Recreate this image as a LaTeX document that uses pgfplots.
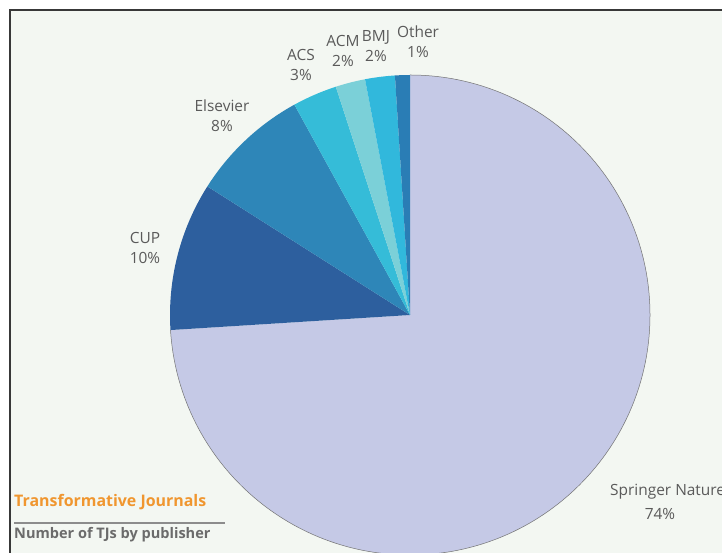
\documentclass[border=0pt]{standalone}
\usepackage{pgfplots}
\usepackage{pgfplotstable}
\pgfplotsset{compat=1.18}
\usepackage{fontspec}
\setmainfont{Open Sans}

\definecolor{bgc}{HTML}{F3F7F2}
\definecolor{cSpringer}{HTML}{C5C9E6}
\definecolor{cCUP}{HTML}{2D5F9E}
\definecolor{cElsevier}{HTML}{2E86B8}
\definecolor{cACS}{HTML}{35BCD8}
\definecolor{cACM}{HTML}{7BD0D8}
\definecolor{cBMJ}{HTML}{31B8DC}
\definecolor{cOther}{HTML}{2A7DB5}
\definecolor{labgray}{HTML}{5A5A5A}
\definecolor{ttlorange}{HTML}{F0962F}
\definecolor{ttlgray}{HTML}{6B6B6B}

% share of TJs by publisher, clockwise from 12 o'clock
\pgfplotstableread{
name      value col
Springer  74    cSpringer
CUP       10    cCUP
Elsevier  8     cElsevier
ACS       3     cACS
ACM       2     cACM
BMJ       2     cBMJ
Other     1     cOther
}\pietable

\newcommand{\lab}{\fontsize{15.5}{20}\selectfont\color{labgray}}

\begin{document}
\begin{tikzpicture}
\begin{axis}[
    scale only axis,
    width=722bp, height=553bp,
    xmin=0, xmax=722, ymin=0, ymax=553,
    axis lines=none,
    clip=true,
]
% frame
\fill[white] (axis cs:0,0) rectangle (axis cs:722,553);
\fill[bgc] (axis cs:10,0) rectangle (axis cs:722,543);
\draw[line width=1.4bp, black!78] (axis cs:10,0) -- (axis cs:10,543) -- (axis cs:722,543);

% pie slices
\def\cum{0}
\pgfplotsforeachungrouped \i in {0,...,6}{%
  \pgfplotstablegetelem{\i}{value}\of\pietable \let\val\pgfplotsretval
  \pgfplotstablegetelem{\i}{col}\of\pietable \let\col\pgfplotsretval
  \pgfmathsetmacro\a{90-3.6*\cum}%
  \pgfmathsetmacro\b{90-3.6*(\cum+\val)}%
  \edef\temp{\noexpand\fill[\col] (axis cs:410,238) -- (axis cs:{410+240*cos(\a)},{238+240*sin(\a)}) arc[start angle=\a, end angle=\b, radius=240bp] -- cycle;}%
  \temp
  \pgfmathsetmacro\cum{\cum+\val}%
}
\draw[line width=0.5bp, black!55] (axis cs:410,478) arc[start angle=90, end angle=-176.4, radius=240bp];

% labels
\node[align=center, font=\lab] at (axis cs:418,511) {Other\\1\%};
\node[align=center, font=\lab] at (axis cs:376,507) {BMJ\\2\%};
\node[align=center, font=\lab] at (axis cs:343,502) {ACM\\2\%};
\node[align=center, font=\lab] at (axis cs:301,488) {ACS\\3\%};
\node[align=center, font=\lab] at (axis cs:222,437) {Elsevier\\8\%};
\node[align=center, font=\lab] at (axis cs:145,305) {CUP\\10\%};
\node[anchor=west, font=\lab, inner sep=0pt] at (axis cs:610,61) {Springer Nature};
\node[font=\lab, inner sep=0pt] at (axis cs:660,39) {74\%};

% title block
\node[anchor=west, font=\fontsize{16}{18}\selectfont\bfseries, text=ttlorange, inner sep=0pt] at (axis cs:14,51) {Transformative Journals};
\draw[line width=1.2bp, black!45] (axis cs:14,30) -- (axis cs:225,30);
\node[anchor=west, font=\fontsize{14.6}{17}\selectfont\bfseries, text=ttlgray, inner sep=0pt] at (axis cs:14,18) {Number of TJs by publisher};
\end{axis}
\end{tikzpicture}
\end{document}
